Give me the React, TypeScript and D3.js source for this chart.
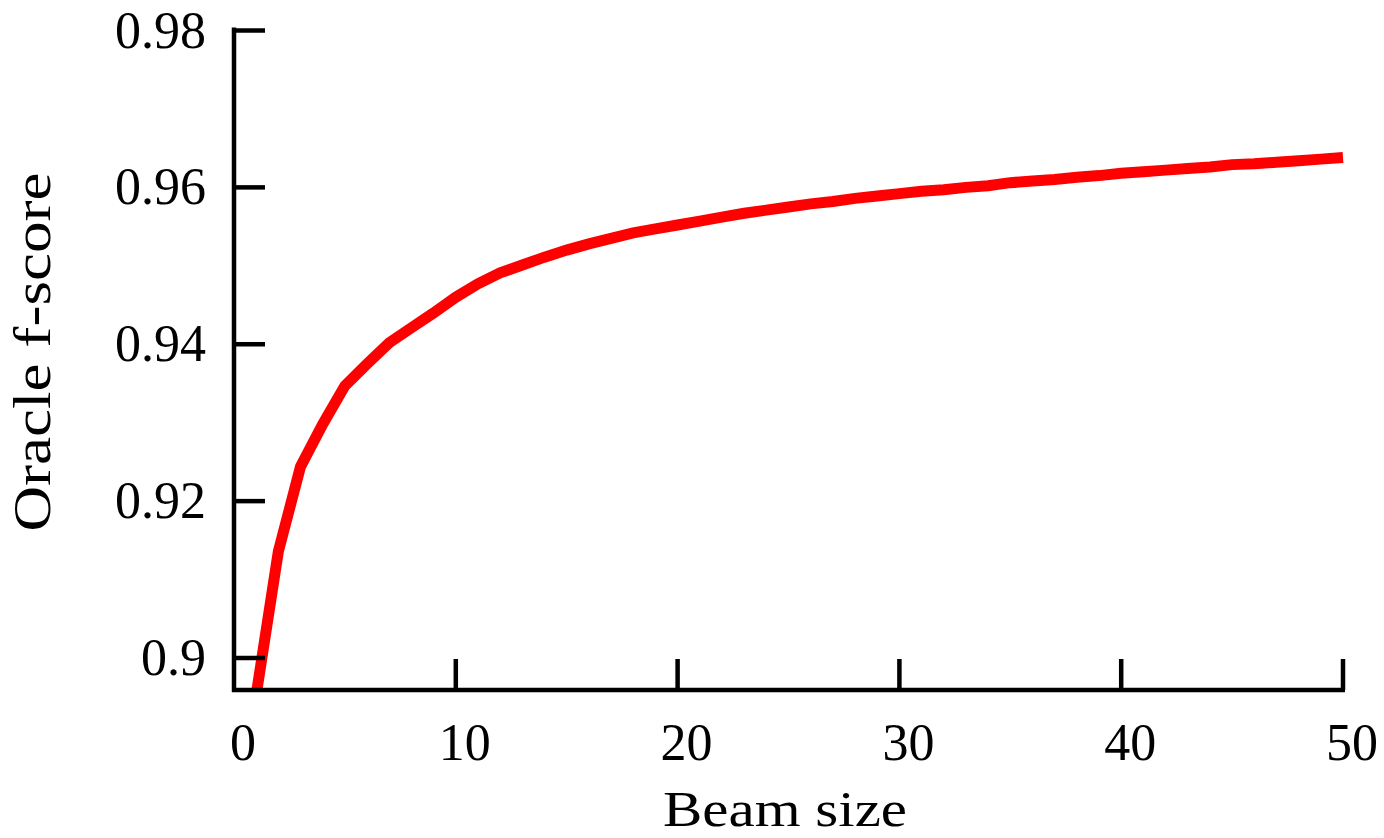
import * as d3 from 'd3';

// beam size vs oracle f-score
const beamSizes = [
  1, 2, 3, 4, 5, 6, 7, 8, 9, 10,
  11, 12, 13, 14, 15, 16, 17, 18, 19, 20,
  21, 22, 23, 24, 25, 26, 27, 28, 29, 30,
  31, 32, 33, 34, 35, 36, 37, 38, 39, 40,
  41, 42, 43, 44, 45, 46, 47, 48, 49, 50
];
const oracleScores = [
  0.8953, 0.9136, 0.9244, 0.9298, 0.9347, 0.9375, 0.9402, 0.9421, 0.944, 0.946,
  0.9477, 0.9491, 0.9501, 0.9511, 0.952, 0.9528, 0.9535, 0.9542, 0.9547, 0.9552,
  0.9557, 0.9562, 0.9567, 0.9571, 0.9575, 0.9579, 0.9582, 0.9586, 0.9589, 0.9592,
  0.9595, 0.9597, 0.96, 0.9602, 0.9606, 0.9608, 0.961, 0.9613, 0.9615, 0.9618,
  0.962, 0.9622, 0.9624, 0.9626, 0.9629, 0.963, 0.9632, 0.9634, 0.9636, 0.9638
];
const xTicks = [10, 20, 30, 40, 50];
const xTickLabels = ['0', '10', '20', '30', '40', '50'];
const xLabelValues = [0, 10, 20, 30, 40, 50];
const yTicks = [0.9, 0.92, 0.94, 0.96, 0.98];
const yTickLabels = ['0.9', '0.92', '0.94', '0.96', '0.98'];

const W = 1384;
const H = 838;
const FONT = '"Liberation Serif", "Times New Roman", serif';

export default function App() {
  const x = d3.scaleLinear().domain([0, 50]).range([234, 1343]);
  const y = d3.scaleLinear().domain([0.9, 0.98]).range([658, 30.5]);
  const left = x(0);
  const right = x(50);
  const bottom = 690;
  const top = y(0.98);

  const line = d3
    .line<number>()
    .x((_, i) => x(beamSizes[i]))
    .y((v) => y(v));

  return (
    <div>
      <style>{'body{margin:0}'}</style>
      <svg width={W} height={H} style={{ display: 'block', background: '#fff' }}>
        <defs>
          <clipPath id="plot-clip">
            <rect x={left} y={0} width={right - left + 2} height={bottom - 2} />
          </clipPath>
        </defs>

        <path
          d={line(oracleScores) || ''}
          fill="none"
          stroke="#ff0000"
          strokeWidth={11}
          strokeLinejoin="miter"
          clipPath="url(#plot-clip)"
        />

        {/* axes */}
        <line x1={left} x2={left} y1={top - 3} y2={bottom + 2} stroke="#000" strokeWidth={4.5} />
        <line x1={left - 2} x2={right + 2} y1={bottom} y2={bottom} stroke="#000" strokeWidth={4.5} />

        {yTicks.map((t, i) => (
          <g key={`y${t}`}>
            <line x1={left} x2={left + 31} y1={y(t)} y2={y(t)} stroke="#000" strokeWidth={4.5} />
            <text
              x={206}
              y={y(t) + 17}
              textAnchor="end"
              fontFamily={FONT}
              fontSize={52}
              fill="#000"
            >
              {yTickLabels[i]}
            </text>
          </g>
        ))}

        {xTicks.map((t) => (
          <line key={`x${t}`} x1={x(t)} x2={x(t)} y1={bottom} y2={bottom - 31} stroke="#000" strokeWidth={4.5} />
        ))}
        {xLabelValues.map((t, i) => (
          <text
            key={`xl${t}`}
            x={x(t) + 9}
            y={760}
            textAnchor="middle"
            fontFamily={FONT}
            fontSize={52}
            fill="#000"
          >
            {xTickLabels[i]}
          </text>
        ))}

        <text
          x={785}
          y={826}
          textAnchor="middle"
          fontFamily={FONT}
          fontSize={50}
          textLength={244}
          lengthAdjust="spacingAndGlyphs"
          fill="#000"
        >
          Beam size
        </text>
        <text
          transform="translate(50,352) rotate(-90)"
          textAnchor="middle"
          fontFamily={FONT}
          fontSize={52}
          textLength={359}
          lengthAdjust="spacingAndGlyphs"
          fill="#000"
        >
          Oracle f-score
        </text>
      </svg>
    </div>
  );
}
